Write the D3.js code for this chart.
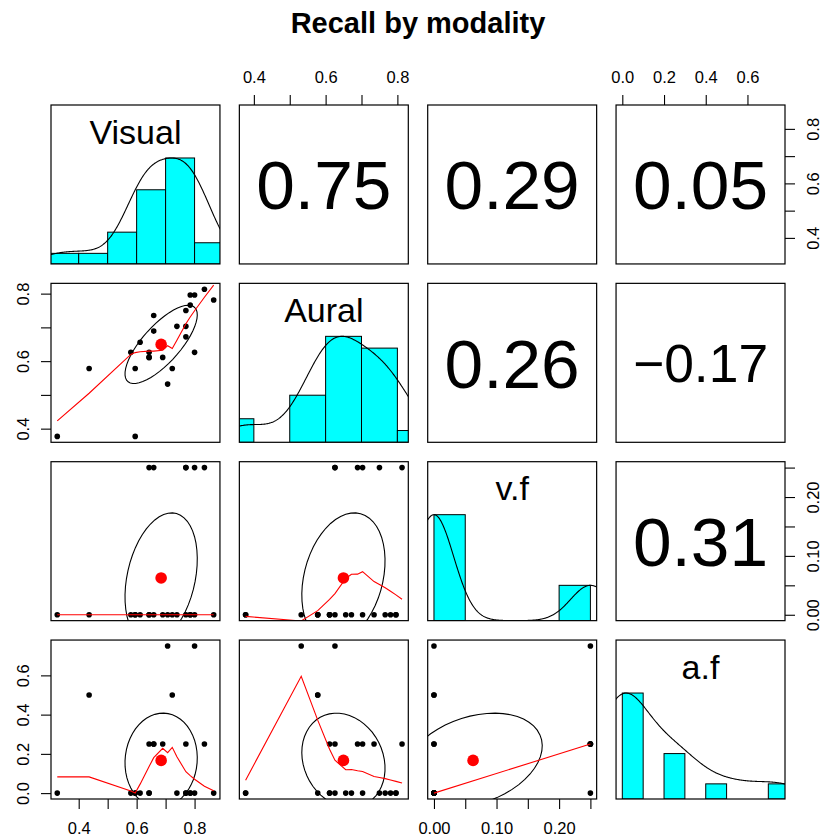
<!DOCTYPE html>
<html>
<head>
<meta charset="utf-8">
<script src="https://cdn.jsdelivr.net/npm/d3@7"></script>
<style>
  body { margin: 0; background: #fff; }
  svg { display: block; }
  text { font-family: "Liberation Sans", Arial, Helvetica, sans-serif; }
</style>
</head>
<body>
<div id="chart"></div>
<script>
// ---- data ----
const chartTitle = "Recall by modality";
const varNames = ["Visual", "Aural", "v.f", "a.f"];
const visual = [0.326, 0.436, 0.595, 0.580, 0.595, 0.612, 0.643, 0.643, 0.659, 0.659, 0.690, 0.707,
                0.723, 0.739, 0.770, 0.770, 0.770, 0.785, 0.785, 0.800, 0.800, 0.834, 0.866, 0.643];
const aural  = [0.377, 0.578, 0.377, 0.626, 0.578, 0.656, 0.626, 0.611, 0.735, 0.689, 0.611, 0.532,
                0.578, 0.703, 0.750, 0.703, 0.672, 0.766, 0.796, 0.796, 0.626, 0.813, 0.781, 0.611];
const vfRecall = [0, 0, 0, 0, 0, 0, 0.25, 0, 0, 0.25, 0, 0,
                  0, 0, 0.25, 0.25, 0, 0, 0, 0, 0.25, 0.25, 0, 0];
const afRecall = [0, 0.5, 0, 0, 0, 0, 0.25, 0, 0.25, 0.25, 0.25, 0.75,
                  0.5, 0, 0, 0.25, 0, 0, 0, 0, 0.75, 0.25, 0, 0];

const columns = [visual, aural, vfRecall, afRecall];

// ---- layout ----
const W = 822, H = 840;
const plotLeft = 51, plotRight = 785, plotTop = 105, plotBottom = 799, gap = 19.4;
const nv = varNames.length;
const cellW = (plotRight - plotLeft - gap * (nv - 1)) / nv;
const cellH = (plotBottom - plotTop - gap * (nv - 1)) / nv;
const colLeft = j => plotLeft + j * (cellW + gap);
const rowTop = i => plotTop + i * (cellH + gap);

const svg = d3.select("#chart").append("svg")
    .attr("width", W)
    .attr("height", H);

svg.append("rect").attr("width", W).attr("height", H).attr("fill", "#fff");

svg.append("text")
    .attr("x", (plotLeft + plotRight) / 2)
    .attr("y", 33)
    .attr("text-anchor", "middle")
    .attr("font-size", 29)
    .attr("font-weight", "bold")
    .text(chartTitle);

// padded domains like R's usr (4% each side)
const domains = columns.map(v => {
    const [lo, hi] = d3.extent(v);
    const r = hi - lo;
    return [lo - 0.04 * r, hi + 0.04 * r];
});
const xScale = j => d3.scaleLinear().domain(domains[j]).range([colLeft(j), colLeft(j) + cellW]);
const yScale = i => d3.scaleLinear().domain(domains[i]).range([rowTop(i) + cellH, rowTop(i)]);

// ---- helpers ----
function pearson(a, b) {
    const ma = d3.mean(a), mb = d3.mean(b);
    let sab = 0, saa = 0, sbb = 0;
    a.forEach((v, k) => {
        sab += (v - ma) * (b[k] - mb);
        saa += (v - ma) ** 2;
        sbb += (b[k] - mb) ** 2;
    });
    return sab / Math.sqrt(saa * sbb);
}

function histCounts(vals) {
    const [lo, hi] = d3.extent(vals);
    const step = d3.tickStep(lo, hi, 6);
    const b0 = Math.floor(lo / step + 1e-9), b1 = Math.ceil(hi / step - 1e-9);
    const breaks = d3.range(b0, b1 + 1).map(k => +(k * step).toFixed(10));
    const counts = new Array(breaks.length - 1).fill(0);
    vals.forEach(v => {
        let k = 0;
        while (k < counts.length - 1 && v > breaks[k + 1] + 1e-9) k++;
        counts[k]++;
    });
    return counts.map((c, k) => ({ x0: breaks[k], x1: breaks[k + 1], count: c }));
}

// gaussian kernel density, bw = "nrd", adjust = 1.2
function densityCurve(vals, adjust = 1.2) {
    const n = vals.length;
    const sorted = vals.slice().sort(d3.ascending);
    const iqr = d3.quantileSorted(sorted, 0.75) - d3.quantileSorted(sorted, 0.25);
    const bw = adjust * 1.06 * Math.min(d3.deviation(vals), iqr / 1.34) * Math.pow(n, -0.2);
    const lo = sorted[0] - 3 * bw, hi = sorted[n - 1] + 3 * bw;
    const xs = d3.range(512).map(k => lo + k * (hi - lo) / 511);
    const ys = xs.map(t => d3.sum(vals, v => Math.exp(-0.5 * ((t - v) / bw) ** 2)));
    const m = d3.max(ys);
    return xs.map((t, k) => [t, ys[k] / m]);
}

// R's lowess (clowess), f = 2/3, iter = 3
function lowess(xIn, yIn, f = 2 / 3, nsteps = 3) {
    const n = xIn.length;
    const idx = d3.range(n).sort((a, b) => (xIn[a] - xIn[b]) || (a - b));
    const x = [0].concat(idx.map(i => xIn[i]));
    const y = [0].concat(idx.map(i => yIn[i]));
    const ys = new Array(n + 1).fill(0);
    const rw = new Array(n + 1).fill(1);
    const res = new Array(n + 1).fill(0);
    const w = new Array(n + 1).fill(0);
    const range = x[n] - x[1];
    const delta = 0.01 * range;
    const ns = Math.max(2, Math.min(n, Math.floor(f * n + 1e-7)));

    function lowest(xs, nleft, nright, userw) {
        const h = Math.max(xs - x[nleft], x[nright] - xs);
        const h9 = 0.999 * h, h1 = 0.001 * h;
        let a = 0, j = nleft;
        while (j <= n) {
            w[j] = 0;
            const r = Math.abs(x[j] - xs);
            if (r <= h9) {
                w[j] = r <= h1 ? 1 : Math.pow(1 - Math.pow(r / h, 3), 3);
                if (userw) w[j] *= rw[j];
                a += w[j];
            } else if (x[j] > xs) break;
            j++;
        }
        const nrt = j - 1;
        if (a <= 0) return null;
        for (j = nleft; j <= nrt; j++) w[j] /= a;
        if (h > 0) {
            a = 0;
            for (j = nleft; j <= nrt; j++) a += w[j] * x[j];
            let b = xs - a, c = 0;
            for (j = nleft; j <= nrt; j++) c += w[j] * (x[j] - a) * (x[j] - a);
            if (Math.sqrt(c) > 0.001 * range) {
                b /= c;
                for (j = nleft; j <= nrt; j++) w[j] *= (b * (x[j] - a) + 1);
            }
        }
        let out = 0;
        for (j = nleft; j <= nrt; j++) out += w[j] * y[j];
        return out;
    }

    for (let iter = 1; iter <= nsteps + 1; iter++) {
        let nleft = 1, nright = ns, last = 0, i = 1;
        for (;;) {
            if (nright < n) {
                const d1 = x[i] - x[nleft], d2 = x[nright + 1] - x[i];
                if (d1 > d2) { nleft++; nright++; continue; }
            }
            const fit = lowest(x[i], nleft, nright, iter > 1);
            ys[i] = fit === null ? y[i] : fit;
            if (last < i - 1) {
                const denom = x[i] - x[last];
                for (let j = last + 1; j < i; j++) {
                    const alpha = (x[j] - x[last]) / denom;
                    ys[j] = alpha * ys[i] + (1 - alpha) * ys[last];
                }
            }
            last = i;
            const cut = x[last] + delta;
            for (i = last + 1; i <= n; i++) {
                if (x[i] > cut) break;
                if (x[i] === x[last]) { ys[i] = ys[last]; last = i; }
            }
            i = Math.max(last + 1, i - 1);
            if (last >= n) break;
        }
        for (let k = 1; k <= n; k++) res[k] = y[k] - ys[k];
        let sc = 0;
        for (let k = 1; k <= n; k++) sc += Math.abs(res[k]);
        sc /= n;
        if (iter > nsteps) break;
        const ar = res.slice(1).map(Math.abs).sort((a, b) => a - b);
        const m1 = Math.floor(n / 2);
        const cmad = n % 2 === 0 ? 3 * (ar[m1] + ar[n - m1 - 1]) : 6 * ar[m1];
        if (cmad < 1e-7 * sc) break;
        const c9 = 0.999 * cmad, c1 = 0.001 * cmad;
        for (let k = 1; k <= n; k++) {
            const r = Math.abs(res[k]);
            rw[k] = r <= c1 ? 1 : (r <= c9 ? (1 - (r / cmad) ** 2) ** 2 : 0);
        }
    }
    return x.slice(1).map((xv, k) => [xv, ys[k + 1]]);
}

// ---- panels ----
const defs = svg.append("defs");

for (let i = 0; i < nv; i++) {
    for (let j = 0; j < nv; j++) {
        const x0 = colLeft(j), y0 = rowTop(i);
        const clipId = `clip-${i}-${j}`;
        defs.append("clipPath").attr("id", clipId)
            .append("rect").attr("x", x0).attr("y", y0).attr("width", cellW).attr("height", cellH);

        const panel = svg.append("g").attr("class", "panel");
        const inner = panel.append("g").attr("clip-path", `url(#${clipId})`);

        if (i === j) {
            // histogram + density + label
            const vals = columns[i];
            const x = xScale(j);
            const y = d3.scaleLinear().domain([0, 1.5]).range([y0 + cellH, y0]);
            const bins = histCounts(vals);
            const maxC = d3.max(bins, d => d.count);
            inner.selectAll("rect.bar")
                .data(bins)
                .join("rect")
                .attr("class", "bar")
                .attr("x", d => x(d.x0))
                .attr("width", d => x(d.x1) - x(d.x0))
                .attr("y", d => y(d.count / maxC))
                .attr("height", d => y(0) - y(d.count / maxC))
                .attr("fill", "#00ffff")
                .attr("stroke", "#000")
                .attr("stroke-width", 1);
            inner.append("path")
                .datum(densityCurve(vals))
                .attr("d", d3.line().x(d => x(d[0])).y(d => y(d[1])))
                .attr("fill", "none")
                .attr("stroke", "#000")
                .attr("stroke-width", 1.1);
            panel.append("text")
                .attr("x", x0 + cellW / 2)
                .attr("y", y0 + 38.5)
                .attr("text-anchor", "middle")
                .attr("font-size", 34)
                .text(varNames[i]);
        } else if (i > j) {
            // scatter, mean, ellipse, lowess
            const xv = columns[j], yv = columns[i];
            const x = xScale(j), y = yScale(i);
            inner.selectAll("circle.pt")
                .data(xv.map((v, k) => [v, yv[k]]))
                .join("circle")
                .attr("class", "pt")
                .attr("cx", d => x(d[0]))
                .attr("cy", d => y(d[1]))
                .attr("r", 2.8)
                .attr("fill", "#000");

            const xm = d3.mean(xv), ym = d3.mean(yv);
            const xs = d3.deviation(xv), ysd = d3.deviation(yv);
            const r = pearson(xv, yv);
            inner.append("circle")
                .attr("cx", x(xm)).attr("cy", y(ym))
                .attr("r", 5.8)
                .attr("fill", "#ff0000");

            const theta = (r !== 0 ? Math.sign(r) : 1) / Math.SQRT2;
            const s1 = Math.sqrt(1 + r), s2 = Math.sqrt(1 - r);
            const ellipse = d3.range(52).map(k => {
                const a = k * 2 * Math.PI / 51;
                const ex = Math.cos(a) * s1 * theta - Math.sin(a) * s2 * theta;
                const ey = Math.cos(a) * s1 * theta + Math.sin(a) * s2 * theta;
                return [ex * xs + xm, ey * ysd + ym];
            });
            inner.append("path")
                .datum(ellipse)
                .attr("d", d3.line().x(d => x(d[0])).y(d => y(d[1])))
                .attr("fill", "none")
                .attr("stroke", "#000")
                .attr("stroke-width", 1.1);

            inner.append("path")
                .datum(lowess(xv, yv))
                .attr("d", d3.line().x(d => x(d[0])).y(d => y(d[1])))
                .attr("fill", "none")
                .attr("stroke", "#ff0000")
                .attr("stroke-width", 1.1);
        } else {
            // correlation text
            const r = pearson(columns[i], columns[j]);
            const txt = (Math.round(r * 100) / 100).toFixed(2).replace("-", "\u2212");
            const t = panel.append("text")
                .attr("x", x0 + cellW / 2)
                .attr("text-anchor", "middle")
                .attr("font-size", 100)
                .text(txt);
            const fs = 100 * 0.8 * cellW / t.node().getComputedTextLength();
            t.attr("font-size", fs).attr("y", y0 + cellH / 2 + 0.358 * fs);
        }

        panel.append("rect")
            .attr("x", x0).attr("y", y0)
            .attr("width", cellW).attr("height", cellH)
            .attr("fill", "none")
            .attr("stroke", "#000")
            .attr("stroke-width", 1.2);
    }
}

// ---- axes (alternating like pairs()) ----
function drawAxis(side, k) {
    const horizontal = side === "top" || side === "bottom";
    const scale = horizontal ? xScale(k) : yScale(k);
    const dom = domains[k];
    const step = d3.tickStep(dom[0], dom[1], 5);
    const fmt = d3.format("." + d3.precisionFixed(step) + "f");
    const axis = (side === "top" ? d3.axisTop(scale)
        : side === "bottom" ? d3.axisBottom(scale)
        : side === "left" ? d3.axisLeft(scale) : d3.axisRight(scale))
        .ticks(5)
        .tickFormat(fmt)
        .tickSizeInner(10)
        .tickSizeOuter(0);

    let tr;
    if (side === "top") tr = `translate(0,${rowTop(0)})`;
    else if (side === "bottom") tr = `translate(0,${rowTop(nv - 1) + cellH})`;
    else if (side === "left") tr = `translate(${colLeft(0)},0)`;
    else tr = `translate(${colLeft(nv - 1) + cellW},0)`;

    const g = svg.append("g").attr("transform", tr).call(axis)
        .attr("font-size", 16.5)
        .attr("font-family", "'Liberation Sans', Arial, Helvetica, sans-serif");
    g.select(".domain").remove();
    g.selectAll(".tick line").attr("stroke", "#000").attr("stroke-width", 1.1);
    const texts = g.selectAll(".tick text").attr("fill", "#000").attr("text-anchor", "middle");
    if (side === "top") texts.attr("y", -28).attr("dy", "0.36em");
    else if (side === "bottom") texts.attr("y", 29).attr("dy", "0.36em");
    else {
        const off = side === "left" ? -28 : 28;
        texts.attr("x", 0).attr("y", 0).attr("dy", "0.36em")
            .attr("transform", `translate(${off},0) rotate(-90)`);
    }

    // drop labels that would overlap the previous one (as R's axis does)
    let lastPos = null, lastW = 0;
    g.selectAll(".tick").each(function (d) {
        const t = d3.select(this).select("text");
        const w = t.node().getComputedTextLength();
        const pos = scale(d);
        if (lastPos !== null && Math.abs(pos - lastPos) < lastW / 2 + w / 2 + 15) {
            t.remove();
        } else {
            lastPos = pos; lastW = w;
        }
    });
}

for (let k = 0; k < nv; k++) {
    if (k % 2 === 1) drawAxis("top", k); else drawAxis("bottom", k);
    if (k % 2 === 1) drawAxis("left", k); else drawAxis("right", k);
}
</script>
</body>
</html>
